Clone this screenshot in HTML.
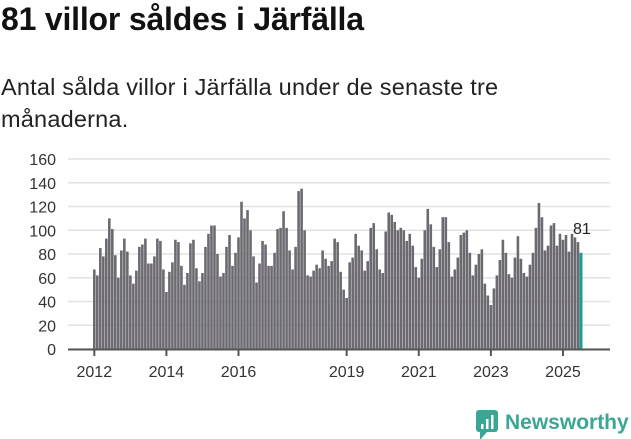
<!DOCTYPE html>
<html><head><meta charset="utf-8"><style>
body{margin:0;width:631px;height:439px;background:#fff;font-family:"Liberation Sans",sans-serif;overflow:hidden;position:relative}
h1{position:absolute;left:1px;top:1px;margin:0;font-size:32px;font-weight:bold;color:#111;letter-spacing:-0.2px}
p{position:absolute;left:1px;top:71px;margin:0;font-size:23.5px;line-height:32px;color:#222;width:540px;letter-spacing:0.2px}
svg{position:absolute;left:0;top:0}
</style></head><body>
<h1>81 villor såldes i Järfälla</h1>
<p>Antal sålda villor i Järfälla under de senaste tre månaderna.</p>
<svg id="c" width="631" height="439"></svg>
<script>
const values=[67,62,85,78,93,110,101,79,60,83,93,82,62,55,66,86,88,93,72,72,78,93,91,67,48,65,
73,92,90,70,54,64,89,92,68,57,64,86,97,104,104,80,61,64,86,96,70,81,94,124,110,117,100,78,56,72,
91,88,70,70,81,101,102,116,102,83,67,86,133,135,100,62,61,66,71,68,83,76,70,74,93,90,65,50,43,73,77,
97,87,83,66,74,102,106,84,67,64,99,115,113,107,100,102,100,91,97,87,69,60,76,100,118,105,86,69,84,111,
111,90,61,67,77,96,98,100,81,62,71,80,84,55,45,37,51,62,75,92,81,63,60,77,95,76,64,61,71,81,
102,123,111,83,87,104,106,87,97,92,96,82,97,94,90,81];
const yTicks=[0,20,40,60,80,100,120,140,160];
const xTickLabels=["2012","2014","2016","2019","2021","2023","2025"];
const xTickIndex=[0,24,48,84,108,132,156];
const NS="http://www.w3.org/2000/svg",svg=document.getElementById('c');
const y0=349,y1=159,yMax=160,xs=94.3,step=(581-94.3)/(values.length-1);
const Y=v=>y0-(v/yMax)*(y0-y1);
const X=i=>xs+i*step;
function mk(t,a){const e=document.createElementNS(NS,t);for(const k in a)e.setAttribute(k,a[k]);svg.appendChild(e);return e;}
yTicks.forEach(v=>{
 const g=mk('line',{x1:68,x2:610,y1:Y(v),y2:Y(v),stroke:'#e2e2e2','stroke-width':1.5});
 
 
 const t=mk('text',{x:56,y:Y(v)+6,'text-anchor':'end','font-size':16,fill:'#333','font-family':'Liberation Sans, sans-serif'});
 t.textContent=v;
 
 
});
values.forEach((v,i)=>{
 const last=i===values.length-1;
 const r=mk('rect',{x:X(i)-(last?1.5:1.3),y:Y(v),width:last?3:2.6,height:y0-Y(v),fill:last?'#1a9e90':'#6c6a70'});
 
 
});
const ax=mk('line',{x1:68,x2:610,y1:y0+0.5,y2:y0+0.5,stroke:'#555','stroke-width':2});


xTickIndex.forEach((idx,k)=>{
 const x=X(idx);
 const tk=mk('line',{x1:x,x2:x,y1:y0,y2:y0+7,stroke:'#555','stroke-width':2});
 
 
 const t=mk('text',{x:x,y:377,'text-anchor':'middle','font-size':16,fill:'#333','font-family':'Liberation Sans, sans-serif'});
 t.textContent=xTickLabels[k];
 
 
});
const li=values.length-1;
const lt=mk('text',{x:X(li)-8,y:Y(values[li])-19,'font-size':16,fill:'#222','font-family':'Liberation Sans, sans-serif'});
lt.textContent=values[li];


</script>
<svg width="631" height="439" style="pointer-events:none">
<rect x="476" y="410" width="22" height="22" rx="3" fill="#3aa795"/>
<polygon points="480,432 480,440 487,432" fill="#3aa795"/>
<rect x="481" y="424" width="2.5" height="5" fill="#fff"/><rect x="486" y="419" width="2.5" height="10" fill="#fff"/><rect x="491" y="415" width="2.5" height="14" fill="#fff"/>
<text x="505" y="429" font-size="21" font-weight="bold" fill="#3aa795" font-family="Liberation Sans, sans-serif">Newsworthy</text>
</svg>
</body></html>
